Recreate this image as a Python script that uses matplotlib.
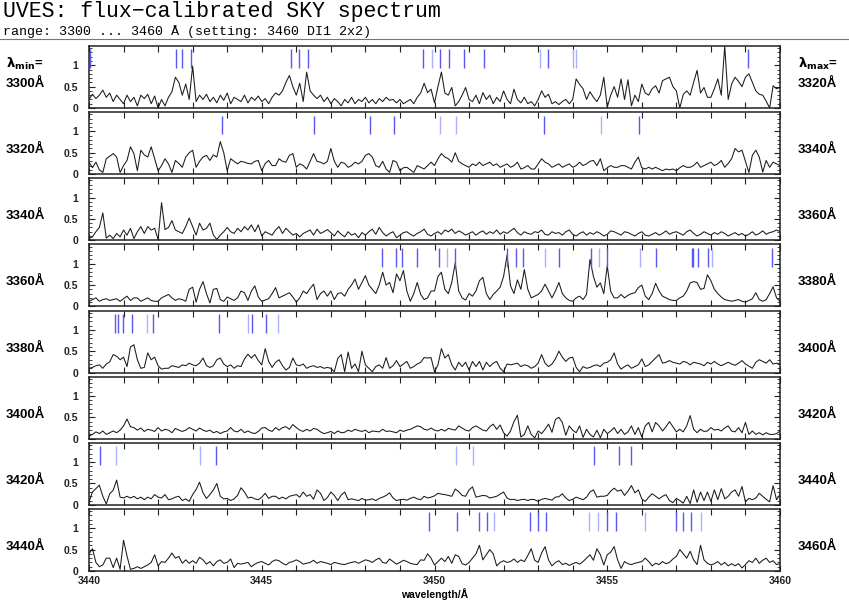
import numpy as np
import matplotlib
matplotlib.use("Agg")
import matplotlib.pyplot as plt
from matplotlib.lines import Line2D
from matplotlib.ticker import MultipleLocator

# panel start wavelengths (each panel covers 20 A, sampled every 0.1 A)
lam_min = [3300, 3320, 3340, 3360, 3380, 3400, 3420, 3440]

flux_p1 = [
    0.2, 0.32, 0.22, 0.3, 0.42, 0.25, 0.35, 0.15, 0.3, 0.2,
    0.1, 0.3, 0.15, 0.25, 0.05, 0.3, 0.22, 0.32, 0.1, 0.28,
    0.0, 0.2, 0.05, 0.25, 0.38, 0.72, 0.6, 0.3, 0.56, 0.2,
    0.98, 0.15, 0.3, 0.2, 0.32, 0.15, 0.25, 0.12, 0.3, 0.18,
    0.35, 0.1, 0.25, 0.2, 0.15, 0.3, 0.12, 0.25, 0.18, 0.28,
    0.15, 0.22, 0.1, 0.25, 0.35, 0.3, 0.4, 0.6, 0.76, 0.5,
    0.3, 0.58, 0.15, 0.84, 0.4, 0.3, 0.22, 0.3, 0.15, 0.25,
    0.1, 0.22, 0.15, 0.05, 0.2, 0.12, 0.25, 0.1, 0.2, 0.15,
    0.25, 0.12, 0.2, 0.1, 0.22, 0.15, 0.25, 0.18, 0.2, 0.12,
    0.2, 0.1, 0.15, 0.2, 0.1, 0.25, 0.35, 0.58, 0.36, 0.44,
    0.12, 0.5, 0.84, 0.35, 0.3, 0.48, 0.05, 0.15, 0.3, 0.48,
    0.2, 0.15, 0.3, 0.1, 0.36, 0.2, 0.3, 0.1, 0.25, 0.15,
    0.4, 0.2, 0.1, 0.44, 0.2, 0.12, 0.25, 0.1, 0.15, 0.05,
    0.2, 0.4, 0.25, 0.32, 0.1, 0.15, 0.08, 0.15, 0.2, 0.1,
    0.2, 0.68, 0.55, 0.45, 0.2, 0.38, 0.25, 0.15, 0.3, 0.72,
    0.02, 0.3, 0.5, 0.25, 0.68, 0.2, 0.66, 0.05, 0.3, 0.15,
    0.56, 0.35, 0.3, 0.45, 0.52, 0.35, 0.64, 0.68, 0.72, 0.5,
    0.4, 0.0, 0.32, 0.4, 0.3, 0.6, 0.88, 0.35, 0.48, 0.25,
    0.25, 0.45, 0.68, 0.3, 1.45, 0.2, 0.56, 0.72, 0.62, 0.5,
    0.72, 0.8, 0.6, 0.4, 0.32, 0.3, 0.16, 0.0, 0.52, 0.45, 0.48]

flux_p2 = [
    0.28, 0.15, 0.28, 0.1, 0.04, 0.36, 0.42, 0.48, 0.4, 0.04,
    0.2, 0.32, 0.64, 0.48, 0.08, 0.56, 0.45, 0.4, 0.64, 0.36,
    0.08, 0.2, 0.36, 0.24, 0.04, 0.32, 0.25, 0.16, 0.4, 0.5,
    0.56, 0.16, 0.3, 0.4, 0.44, 0.32, 0.45, 0.4, 0.76, 0.5,
    0.08, 0.36, 0.3, 0.24, 0.3, 0.28, 0.25, 0.24, 0.3, 0.32,
    0.08, 0.25, 0.32, 0.2, 0.2, 0.36, 0.3, 0.28, 0.44, 0.48,
    0.16, 0.24, 0.2, 0.12, 0.3, 0.48, 0.3, 0.28, 0.24, 0.3,
    0.6, 0.3, 0.16, 0.28, 0.25, 0.16, 0.2, 0.28, 0.24, 0.3,
    0.44, 0.48, 0.4, 0.2, 0.16, 0.3, 0.12, 0.04, 0.32, 0.28,
    0.08, 0.15, 0.16, 0.1, 0.04, 0.2, 0.16, 0.12, 0.2, 0.28,
    0.2, 0.36, 0.48, 0.4, 0.36, 0.28, 0.5, 0.3, 0.24, 0.2,
    0.16, 0.24, 0.2, 0.28, 0.2, 0.24, 0.28, 0.2, 0.24, 0.16,
    0.2, 0.24, 0.16, 0.2, 0.28, 0.12, 0.15, 0.2, 0.12, 0.12,
    0.24, 0.36, 0.28, 0.24, 0.16, 0.2, 0.24, 0.16, 0.2, 0.24,
    0.16, 0.2, 0.28, 0.2, 0.24, 0.3, 0.32, 0.2, 0.36, 0.08,
    0.15, 0.2, 0.16, 0.16, 0.2, 0.2, 0.16, 0.12, 0.28, 0.4,
    0.15, 0.12, 0.16, 0.12, 0.16, 0.12, 0.08, 0.12, 0.1, 0.12,
    0.08, 0.15, 0.2, 0.16, 0.16, 0.2, 0.28, 0.16, 0.2, 0.24,
    0.28, 0.2, 0.24, 0.32, 0.16, 0.25, 0.36, 0.6, 0.52, 0.56,
    0.3, 0.04, 0.44, 0.56, 0.4, 0.05, 0.32, 0.16, 0.28, 0.24, 0.2]

flux_p3 = [
    0.04, 0.08, 0.2, 0.3, 0.64, 0.05, 0.12, 0.04, 0.16, 0.08,
    0.24, 0.12, 0.28, 0.04, 0.2, 0.32, 0.16, 0.32, 0.24, 0.28,
    0.02, 0.88, 0.25, 0.3, 0.46, 0.24, 0.2, 0.16, 0.32, 0.52,
    0.32, 0.12, 0.4, 0.24, 0.28, 0.4, 0.12, 0.02, 0.12, 0.2,
    0.3, 0.2, 0.16, 0.28, 0.2, 0.32, 0.24, 0.36, 0.2, 0.36,
    0.1, 0.2, 0.16, 0.12, 0.24, 0.32, 0.16, 0.28, 0.2, 0.12,
    0.16, 0.08, 0.16, 0.2, 0.24, 0.12, 0.26, 0.16, 0.2, 0.25,
    0.18, 0.1, 0.22, 0.14, 0.08, 0.2, 0.12, 0.16, 0.06, 0.18,
    0.12, 0.2, 0.26, 0.14, 0.3, 0.18, 0.1, 0.16, 0.2, 0.06,
    0.12, 0.18, 0.2, 0.14, 0.1, 0.16, 0.2, 0.26, 0.14, 0.1,
    0.16, 0.2, 0.14, 0.24, 0.2, 0.26, 0.16, 0.22, 0.18, 0.12,
    0.16, 0.2, 0.12, 0.18, 0.22, 0.14, 0.2, 0.16, 0.24, 0.14,
    0.2, 0.16, 0.22, 0.28, 0.18, 0.12, 0.2, 0.16, 0.14, 0.2,
    0.18, 0.24, 0.14, 0.12, 0.2, 0.16, 0.18, 0.12, 0.2, 0.24,
    0.14, 0.1, 0.16, 0.2, 0.12, 0.18, 0.14, 0.2, 0.16, 0.1,
    0.14, 0.22, 0.2, 0.16, 0.12, 0.2, 0.18, 0.14, 0.1, 0.16,
    0.2, 0.12, 0.1, 0.14, 0.18, 0.12, 0.16, 0.22, 0.14, 0.18,
    0.2, 0.16, 0.12, 0.2, 0.24, 0.16, 0.1, 0.14, 0.2, 0.16,
    0.12, 0.18, 0.14, 0.2, 0.16, 0.1, 0.14, 0.18, 0.12, 0.16,
    0.1, 0.14, 0.2, 0.12, 0.16, 0.22, 0.14, 0.18, 0.2, 0.24, 0.2]

flux_p4 = [
    0.12, 0.16, 0.2, 0.12, 0.16, 0.18, 0.14, 0.16, 0.18, 0.12,
    0.18, 0.24, 0.14, 0.2, 0.2, 0.12, 0.16, 0.2, 0.14, 0.12,
    0.12, 0.2, 0.24, 0.28, 0.2, 0.14, 0.18, 0.16, 0.12, 0.4,
    0.45, 0.1, 0.4, 0.58, 0.3, 0.08, 0.4, 0.42, 0.16, 0.12,
    0.22, 0.18, 0.14, 0.2, 0.36, 0.32, 0.14, 0.36, 0.48, 0.22,
    0.12, 0.15, 0.18, 0.3, 0.44, 0.2, 0.24, 0.28, 0.32, 0.22,
    0.1, 0.2, 0.36, 0.3, 0.42, 0.52, 0.16, 0.3, 0.36, 0.24,
    0.36, 0.16, 0.3, 0.32, 0.24, 0.4, 0.5, 0.64, 0.4, 0.56,
    0.72, 0.5, 0.4, 0.3, 0.5, 0.8, 0.5, 0.56, 0.32, 0.76,
    0.6, 0.84, 0.36, 0.12, 0.3, 0.56, 0.28, 0.16, 0.2, 0.36,
    0.36, 0.7, 0.8, 0.4, 0.3, 0.56, 1.02, 0.36, 0.2, 0.15,
    0.3, 0.24, 0.36, 0.6, 0.68, 0.3, 0.16, 0.28, 0.36, 0.45,
    0.7, 1.2, 0.48, 0.3, 0.62, 0.4, 0.86, 0.4, 0.2, 0.24,
    0.28, 0.36, 0.52, 0.36, 0.2, 0.36, 0.56, 0.3, 0.2, 0.14,
    0.12, 0.2, 0.24, 0.16, 0.28, 1.1, 0.7, 0.45, 0.55, 0.3,
    0.95, 0.35, 0.2, 0.2, 0.28, 0.2, 0.26, 0.3, 0.32, 0.44,
    0.5, 0.24, 0.16, 0.3, 0.54, 0.36, 0.24, 0.2, 0.16, 0.14,
    0.14, 0.2, 0.24, 0.36, 0.55, 0.58, 0.56, 0.4, 0.42, 0.74,
    0.6, 0.4, 0.3, 0.22, 0.16, 0.14, 0.12, 0.14, 0.16, 0.12,
    0.1, 0.14, 0.18, 0.32, 0.16, 0.12, 0.16, 0.3, 0.46, 0.2, 0.12]

flux_p5 = [
    0.1, 0.12, 0.16, 0.18, 0.1, 0.2, 0.25, 0.42, 0.38, 0.3,
    0.36, 0.14, 0.6, 0.65, 0.3, 0.1, 0.12, 0.46, 0.3, 0.36,
    0.16, 0.08, 0.1, 0.1, 0.16, 0.14, 0.12, 0.18, 0.16, 0.22,
    0.18, 0.16, 0.22, 0.34, 0.16, 0.12, 0.16, 0.3, 0.34, 0.2,
    0.14, 0.18, 0.1, 0.16, 0.14, 0.32, 0.43, 0.34, 0.42, 0.28,
    0.18, 0.56, 0.26, 0.12, 0.24, 0.3, 0.16, 0.06, 0.12, 0.34,
    0.18, 0.16, 0.2, 0.1, 0.14, 0.16, 0.12, 0.14, 0.1, 0.12,
    0.1, 0.02, 0.33, 0.42, 0.02, 0.48, 0.1, 0.2, 0.02, 0.5,
    0.18, 0.1, 0.02, 0.14, 0.18, 0.1, 0.35, 0.1, 0.16, 0.28,
    0.14, 0.2, 0.26, 0.1, 0.14, 0.2, 0.24, 0.35, 0.34, 0.35,
    0.02, 0.18, 0.56, 0.34, 0.42, 0.18, 0.06, 0.24, 0.14, 0.24,
    0.06, 0.26, 0.14, 0.26, 0.06, 0.24, 0.14, 0.22, 0.26, 0.1,
    0.02, 0.2, 0.18, 0.2, 0.22, 0.14, 0.18, 0.16, 0.1, 0.14,
    0.22, 0.42, 0.22, 0.14, 0.2, 0.32, 0.5, 0.36, 0.26, 0.34,
    0.36, 0.12, 0.02, 0.14, 0.1, 0.12, 0.16, 0.18, 0.14, 0.22,
    0.24, 0.3, 0.46, 0.2, 0.08, 0.14, 0.18, 0.1, 0.14, 0.18,
    0.32, 0.14, 0.18, 0.26, 0.34, 0.42, 0.22, 0.24, 0.28, 0.24,
    0.22, 0.2, 0.26, 0.24, 0.18, 0.24, 0.22, 0.2, 0.16, 0.24,
    0.2, 0.26, 0.2, 0.16, 0.2, 0.24, 0.2, 0.17, 0.22, 0.28,
    0.2, 0.15, 0.1, 0.24, 0.3, 0.26, 0.22, 0.3, 0.2, 0.22, 0.2]

flux_p6 = [
    0.06, 0.1, 0.16, 0.12, 0.18, 0.1, 0.14, 0.18, 0.14, 0.2,
    0.3, 0.46, 0.28, 0.26, 0.2, 0.25, 0.17, 0.22, 0.2, 0.17,
    0.26, 0.18, 0.22, 0.2, 0.14, 0.24, 0.2, 0.17, 0.2, 0.26,
    0.22, 0.18, 0.25, 0.2, 0.17, 0.2, 0.14, 0.17, 0.12, 0.16,
    0.18, 0.26, 0.18, 0.16, 0.22, 0.14, 0.18, 0.14, 0.12, 0.17,
    0.25, 0.26, 0.2, 0.17, 0.26, 0.2, 0.26, 0.28, 0.22, 0.33,
    0.26, 0.2, 0.17, 0.22, 0.18, 0.24, 0.22, 0.16, 0.12, 0.14,
    0.17, 0.12, 0.18, 0.14, 0.15, 0.2, 0.17, 0.22, 0.19, 0.17,
    0.2, 0.14, 0.18, 0.17, 0.16, 0.22, 0.17, 0.18, 0.16, 0.14,
    0.2, 0.17, 0.2, 0.22, 0.26, 0.3, 0.28, 0.22, 0.2, 0.25,
    0.2, 0.18, 0.22, 0.18, 0.24, 0.22, 0.2, 0.3, 0.25, 0.2,
    0.18, 0.26, 0.3, 0.25, 0.2, 0.18, 0.28, 0.34, 0.22, 0.32,
    0.14, 0.06, 0.18, 0.4, 0.55, 0.04, 0.1, 0.3, 0.1, 0.02,
    0.18, 0.12, 0.22, 0.34, 0.15, 0.45, 0.5, 0.38, 0.08, 0.3,
    0.2, 0.14, 0.3, 0.03, 0.22, 0.1, 0.04, 0.2, 0.02, 0.22,
    0.12, 0.18, 0.26, 0.12, 0.22, 0.1, 0.16, 0.3, 0.1, 0.26,
    0.04, 0.3, 0.38, 0.16, 0.38, 0.3, 0.18, 0.28, 0.4, 0.28,
    0.16, 0.22, 0.16, 0.3, 0.54, 0.22, 0.14, 0.22, 0.17, 0.18,
    0.26, 0.2, 0.22, 0.18, 0.25, 0.3, 0.18, 0.16, 0.26, 0.14,
    0.38, 0.1, 0.18, 0.1, 0.14, 0.09, 0.14, 0.1, 0.1, 0.12, 0.18]

flux_p7 = [
    0.07, 0.3, 0.38, 0.46, 0.2, 0.02, 0.26, 0.34, 0.58, 0.18,
    0.16, 0.2, 0.16, 0.2, 0.14, 0.18, 0.12, 0.18, 0.14, 0.24,
    0.18, 0.16, 0.24, 0.12, 0.14, 0.18, 0.2, 0.1, 0.14, 0.08,
    0.24, 0.36, 0.53, 0.28, 0.15, 0.24, 0.35, 0.5, 0.2, 0.14,
    0.15, 0.1, 0.14, 0.22, 0.4, 0.3, 0.16, 0.18, 0.14, 0.12,
    0.18, 0.27, 0.15, 0.2, 0.2, 0.14, 0.18, 0.14, 0.2, 0.22,
    0.24, 0.18, 0.3, 0.2, 0.24, 0.13, 0.35, 0.27, 0.1, 0.17,
    0.3, 0.22, 0.1, 0.23, 0.3, 0.12, 0.14, 0.12, 0.1, 0.15,
    0.11, 0.12, 0.14, 0.1, 0.15, 0.18, 0.22, 0.28, 0.16, 0.1,
    0.12, 0.13, 0.11, 0.15, 0.18, 0.14, 0.12, 0.2, 0.16, 0.18,
    0.21, 0.27, 0.25, 0.24, 0.22, 0.2, 0.37, 0.31, 0.22, 0.2,
    0.35, 0.42, 0.18, 0.2, 0.22, 0.21, 0.16, 0.18, 0.2, 0.25,
    0.3, 0.16, 0.12, 0.13, 0.1, 0.12, 0.13, 0.1, 0.13, 0.12,
    0.08, 0.13, 0.15, 0.13, 0.11, 0.18, 0.19, 0.26, 0.16, 0.1,
    0.13, 0.18, 0.15, 0.12, 0.18, 0.3, 0.35, 0.18, 0.2, 0.2,
    0.22, 0.32, 0.39, 0.32, 0.35, 0.22, 0.32, 0.45, 0.28, 0.35,
    0.14, 0.08, 0.18, 0.26, 0.2, 0.14, 0.2, 0.24, 0.1, 0.05,
    0.15, 0.1, 0.04, 0.2, 0.03, 0.35, 0.06, 0.3, 0.1, 0.3,
    0.08, 0.35, 0.12, 0.38, 0.14, 0.2, 0.3, 0.35, 0.2, 0.43,
    0.07, 0.15, 0.12, 0.16, 0.27, 0.2, 0.13, 0.07, 0.45, 0.12, 0.24]

flux_p8 = [
    0.4, 0.52, 0.2, 0.1, 0.14, 0.3, 0.3, 0.08, 0.3, 0.04,
    0.72, 0.35, 0.04, 0.06, 0.1, 0.06, 0.1, 0.14, 0.2, 0.38,
    0.12, 0.22, 0.2, 0.3, 0.42, 0.3, 0.34, 0.18, 0.26, 0.18,
    0.24, 0.18, 0.32, 0.26, 0.16, 0.22, 0.12, 0.22, 0.26, 0.18,
    0.2, 0.28, 0.08, 0.18, 0.16, 0.18, 0.2, 0.1, 0.16, 0.2,
    0.22, 0.18, 0.14, 0.22, 0.26, 0.24, 0.18, 0.14, 0.2, 0.22,
    0.26, 0.22, 0.16, 0.18, 0.2, 0.25, 0.18, 0.22, 0.2, 0.18,
    0.15, 0.2, 0.18, 0.16, 0.15, 0.18, 0.2, 0.22, 0.18, 0.22,
    0.26, 0.24, 0.2, 0.26, 0.3, 0.2, 0.18, 0.28, 0.22, 0.16,
    0.2, 0.25, 0.22, 0.18, 0.16, 0.15, 0.26, 0.25, 0.4, 0.3,
    0.14, 0.22, 0.3, 0.22, 0.34, 0.18, 0.38, 0.34, 0.17, 0.14,
    0.2, 0.3, 0.4, 0.6, 0.26, 0.38, 0.5, 0.4, 0.12, 0.2,
    0.24, 0.2, 0.22, 0.28, 0.2, 0.26, 0.22, 0.36, 0.52, 0.25,
    0.2, 0.42, 0.57, 0.26, 0.12, 0.2, 0.24, 0.15, 0.18, 0.13,
    0.17, 0.2, 0.16, 0.22, 0.3, 0.38, 0.25, 0.52, 0.38, 0.14,
    0.38, 0.44, 0.57, 0.26, 0.06, 0.22, 0.17, 0.15, 0.18, 0.2,
    0.22, 0.3, 0.22, 0.12, 0.18, 0.15, 0.22, 0.17, 0.2, 0.28,
    0.34, 0.5, 0.4, 0.3, 0.46, 0.26, 0.15, 0.6, 0.26, 0.18,
    0.14, 0.17, 0.22, 0.14, 0.2, 0.12, 0.17, 0.12, 0.17, 0.07,
    0.15, 0.24, 0.2, 0.3, 0.18, 0.25, 0.3, 0.2, 0.24, 0.15, 0.17]

fluxes = [flux_p1, flux_p2, flux_p3, flux_p4, flux_p5, flux_p6, flux_p7, flux_p8]

# identified sky lines (strong / weak)
lines_strong = [
    [3300.03, 3302.52, 3302.69, 3302.95, 3305.85, 3306.08, 3306.34, 3309.68,
     3310.16, 3310.42, 3310.86, 3311.43, 3313.29, 3319.08],
    [3323.84, 3326.52, 3328.14, 3328.82, 3333.16, 3335.92],
    [],
    [3368.48, 3368.89, 3369.07, 3369.48, 3370.12, 3370.59, 3372.09, 3372.35,
     3372.56, 3373.59, 3374.52, 3374.99, 3376.40, 3377.44, 3377.48, 3377.63,
     3377.92, 3379.77],
    [3380.75, 3380.83, 3380.98, 3381.24, 3381.84, 3383.75, 3384.72, 3385.13],
    [],
    [3420.32, 3423.68, 3434.61, 3435.34, 3435.69],
    [3449.84, 3450.65, 3451.30, 3451.53, 3452.75, 3453.01, 3453.24, 3454.99,
     3455.24, 3456.98, 3457.19, 3457.42],
]
lines_weak = [
    [3309.92, 3313.06, 3314.0, 3314.1],
    [3330.16, 3330.61, 3334.82],
    [],
    [3370.36, 3373.20, 3374.77, 3375.96, 3378.02],
    [3381.68, 3384.60, 3385.46],
    [],
    [3420.79, 3423.21, 3430.63, 3431.11],
    [3451.73, 3454.47, 3454.73, 3456.09, 3457.71],
]

W, H = 849, 602
fig = plt.figure(figsize=(W / 100, H / 100), dpi=100)

lab_font = dict(family=["Liberation Sans", "DejaVu Sans"], fontweight="bold")
mono = ["Liberation Mono", "DejaVu Sans Mono"]

fig.text(3 / W, 1 - 17.5 / H, "UVES: flux\u2212calibrated SKY spectrum",
         family=mono, fontsize=15.5, va="baseline", ha="left")
fig.text(3 / W, 1 - 34.5 / H, "range: 3300 ... 3460 \u00c5 (setting: 3460 DI1 2x2)",
         family=mono, fontsize=9.6, va="baseline", ha="left")
fig.add_artist(Line2D([0, 1], [1 - 38.5 / H, 1 - 38.5 / H], color="#777777", lw=0.8,
                      transform=fig.transFigure))

fig.text(6 / W, 1 - 64 / H, r"$\mathbf{\lambda_{min}}$=", fontsize=9.5, va="center", **lab_font)
fig.text(798 / W, 1 - 64 / H, r"$\mathbf{\lambda_{max}}$=", fontsize=9.5, va="center", **lab_font)

step = 66.14
for k in range(8):
    top = 46 + step * k
    ax = fig.add_axes([89 / W, 1 - (top + 62) / H, 691 / W, 62 / H])
    lo = lam_min[k]
    wl = np.linspace(lo, lo + 20, len(fluxes[k]))
    ax.plot(wl, fluxes[k], color="#1a1a1a", lw=0.75)
    if lines_strong[k]:
        ax.vlines(lines_strong[k], 0.93, 1.37, color="#5858f0", lw=1.0)
    if lines_weak[k]:
        ax.vlines(lines_weak[k], 0.93, 1.37, color="#aab0ff", lw=1.0)
    ax.set_xlim(lo, lo + 20)
    ax.set_ylim(0, 1.45)

    ax.set_xticks(np.arange(lo, lo + 21, 1))
    if k == 7:
        ax.set_xticklabels([str(int(v)) if int(v) % 5 == 0 else "" for v in np.arange(lo, lo + 21, 1)])
        ax.set_xlabel("wavelength/\u00c5", fontsize=7.5, labelpad=1.5, **lab_font)
    else:
        ax.set_xticklabels([])
    ax.set_yticks([0, 0.5, 1])
    ax.set_yticklabels(["0", "0.5", "1"])
    ax.yaxis.set_minor_locator(MultipleLocator(0.1))
    ax.tick_params(which="both", direction="in", top=True, right=True, colors="#222222")
    ax.tick_params(which="major", length=4.5, width=0.8)
    ax.tick_params(which="minor", length=2.5, width=0.6)
    ax.tick_params(axis="y", pad=8)
    ax.tick_params(axis="x", pad=3.5)
    for t in ax.get_xticklabels() + ax.get_yticklabels():
        t.set_fontsize(7.5)
        t.set_fontweight("bold")
        t.set_family(["Liberation Sans", "DejaVu Sans"])
    for s in ax.spines.values():
        s.set_linewidth(1.1)
        s.set_color("#222222")

    fig.text(6 / W, 1 - (84 + step * k) / H, "%d\u00c5" % lo, fontsize=9.5, va="center", **lab_font)
    fig.text(798 / W, 1 - (84 + step * k) / H, "%d\u00c5" % (lo + 20), fontsize=9.5, va="center", **lab_font)

fig.savefig("out.png", dpi=100)
